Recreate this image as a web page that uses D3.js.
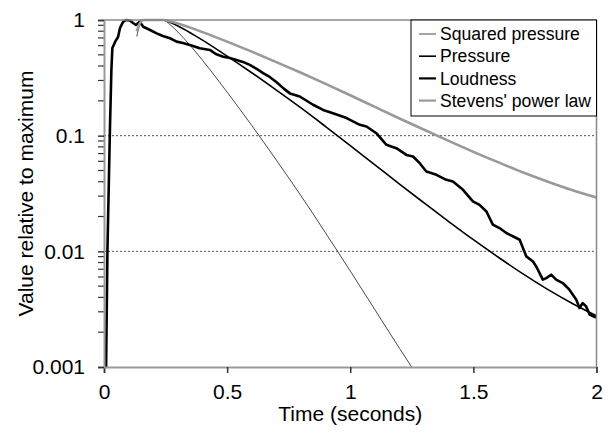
<!DOCTYPE html>
<html>
<head>
<meta charset="utf-8">
<script src="https://cdn.jsdelivr.net/npm/d3@7"></script>
<style>
  html, body { margin: 0; padding: 0; background: #fff; }
  svg { display: block; }
  text { font-family: Arial, "Liberation Sans", sans-serif; fill: #000; }
</style>
</head>
<body>
<svg id="chart" width="612" height="435"></svg>
<script>
// Time axis (seconds) and value axis ticks
const xTicks = [0, 0.5, 1, 1.5, 2];
const xTickLabels = ["0", "0.5", "1", "1.5", "2"];
const yTicks = [0.001, 0.01, 0.1, 1];
const yTickLabels = ["0.001", "0.01", "0.1", "1"];
const gridValues = [0.1, 0.01];

const seriesNames = ["Squared pressure", "Pressure", "Loudness", "Stevens' power law"];

// Modelled curves share one time base
const modelTime = [0.133, 0.145, 0.16, 0.24, 0.27, 0.3, 0.35, 0.4, 0.5, 0.6, 0.7, 0.8, 0.9, 1.0,
                   1.1, 1.2, 1.3, 1.4, 1.5, 1.6, 1.7, 1.8, 1.9, 2.0];
const pressure = [0.93, 0.97, 1, 1, 0.9506, 0.8872, 0.7762, 0.6699, 0.4875, 0.3499, 0.2477, 0.1738,
                  0.1199, 0.0822, 0.0560, 0.0381, 0.0262, 0.0181, 0.0126, 0.00893, 0.00641,
                  0.00471, 0.00356, 0.00277];
const squaredPressure = [0.72, 0.9, 1, 1, 0.9036, 0.787, 0.6026, 0.4487, 0.2377, 0.1225, 0.0614,
                         0.0302, 0.0144, 0.00676, 0.00313, 0.00145, 0.000685,
                         null, null, null, null, null, null, null];
const stevens = [0.8, 0.93, 1, 1, 0.970, 0.931, 0.859, 0.786, 0.650, 0.5324, 0.4327, 0.3499,
                 0.2802, 0.2234, 0.1773, 0.1408, 0.1124, 0.0901, 0.0725, 0.0590, 0.0483,
                 0.0402, 0.0339, 0.0292];

// Measured loudness
const loudTime = [0.008, 0.014, 0.024, 0.030, 0.034, 0.045, 0.057, 0.065, 0.077, 0.089, 0.105, 0.118,
  0.130, 0.146, 0.159, 0.187, 0.214, 0.239, 0.268, 0.295, 0.320, 0.349, 0.389, 0.430, 0.454,
  0.484, 0.511, 0.538, 0.564, 0.592, 0.621, 0.646, 0.673, 0.701, 0.730, 0.755, 0.795, 0.849,
  0.890, 0.930, 0.985, 1.039, 1.066, 1.106, 1.147, 1.187, 1.228, 1.255, 1.282, 1.309, 1.350,
  1.390, 1.417, 1.458, 1.498, 1.525, 1.553, 1.579, 1.606, 1.634, 1.660, 1.688, 1.715, 1.742,
  1.755, 1.782, 1.796, 1.816, 1.836, 1.863, 1.890, 1.918, 1.931, 1.944, 1.958, 1.972, 1.992, 2.0];
const loudness = [0.0008, 0.0103, 0.112, 0.37, 0.573, 0.646, 0.713, 0.853, 0.96, 1.0, 0.99, 0.942,
  0.905, 0.96, 0.875, 0.82, 0.767, 0.728, 0.695, 0.650, 0.633, 0.608, 0.570, 0.551, 0.508,
  0.482, 0.470, 0.452, 0.434, 0.409, 0.377, 0.347, 0.322, 0.290, 0.255, 0.232, 0.218, 0.185,
  0.167, 0.156, 0.142, 0.124, 0.120, 0.105, 0.0834, 0.078, 0.0682, 0.0661, 0.0578, 0.0490, 0.0459,
  0.0415, 0.0402, 0.0340, 0.0270, 0.0252, 0.0221, 0.0170, 0.0159, 0.0144, 0.0135, 0.0126, 0.00904, 0.00818,
  0.00741, 0.00569, 0.00587, 0.00628, 0.00569, 0.00532, 0.00466, 0.00382, 0.00324, 0.00357, 0.00334, 0.00284, 0.00271, 0.0027];

const svg = d3.select("#chart");
const plot = { left: 104, right: 596.5, top: 20, bottom: 367 };

const x = d3.scaleLinear().domain([0, 2]).range([plot.left, plot.right]);
const y = d3.scaleLog().domain([0.001, 1]).range([plot.bottom, plot.top]);

svg.append("defs").append("clipPath").attr("id", "plotClip")
  .append("rect")
  .attr("x", plot.left).attr("y", plot.top - 2)
  .attr("width", plot.right - plot.left).attr("height", plot.bottom - plot.top + 2);

// Dotted gridlines
svg.append("g").selectAll("line").data(gridValues).join("line")
  .attr("x1", plot.left).attr("x2", plot.right)
  .attr("y1", d => y(d)).attr("y2", d => y(d))
  .attr("stroke", "#555").attr("stroke-width", 1).attr("stroke-dasharray", "2,2");

const zip = (ts, vs) => ts.map((t, i) => [t, vs[i]]);

const series = [
  { name: seriesNames[0], data: zip(modelTime, squaredPressure), color: "#333", width: 0.9, curve: d3.curveMonotoneX },
  { name: seriesNames[1], data: zip(modelTime, pressure), color: "#000", width: 1.6, curve: d3.curveMonotoneX },
  { name: seriesNames[2], data: zip(loudTime, loudness), color: "#000", width: 2.6, curve: d3.curveLinear },
  { name: seriesNames[3], data: zip(modelTime, stevens), color: "#999", width: 2.6, curve: d3.curveMonotoneX }
];

const g = svg.append("g").attr("clip-path", "url(#plotClip)");
series.forEach(s => {
  g.append("path")
    .attr("d", d3.line().defined(d => d[1] != null).x(d => x(d[0])).y(d => y(d[1])).curve(s.curve)(s.data))
    .attr("fill", "none")
    .attr("stroke", s.color)
    .attr("stroke-width", s.width)
    .attr("stroke-linejoin", "round");
});

// Frame: top and right edges
svg.append("line").attr("x1", plot.left).attr("x2", plot.right).attr("y1", plot.top).attr("y2", plot.top)
  .attr("stroke", "#888").attr("stroke-width", 1.5);
svg.append("line").attr("x1", plot.right).attr("x2", plot.right).attr("y1", plot.top).attr("y2", plot.bottom)
  .attr("stroke", "#888").attr("stroke-width", 1.5);

// X axis
const xAxis = svg.append("g").attr("transform", `translate(0,${plot.bottom})`)
  .call(d3.axisBottom(x).tickValues(xTicks).tickFormat((d, i) => xTickLabels[i]).tickSize(6).tickPadding(11));
xAxis.select(".domain").attr("stroke", "#999").attr("stroke-width", 2);
xAxis.selectAll(".tick line").attr("stroke", "#333").attr("stroke-width", 1.5);
xAxis.selectAll(".tick text").attr("font-size", 21).attr("font-family", "Arial, 'Liberation Sans', sans-serif").attr("fill", "#000");

// Y axis with minor ticks
const minor = [];
for (let e = -3; e < 0; e++) for (let m = 2; m <= 9; m++) minor.push(m * Math.pow(10, e));
svg.append("g").selectAll("line").data(minor).join("line")
  .attr("x1", plot.left - 6).attr("x2", plot.left)
  .attr("y1", d => y(d)).attr("y2", d => y(d))
  .attr("stroke", "#333").attr("stroke-width", 1.2);

const yAxis = svg.append("g").attr("transform", `translate(${plot.left},0)`)
  .call(d3.axisLeft(y).tickValues(yTicks).tickFormat((d, i) => yTickLabels[i]).tickSize(6).tickPadding(13));
yAxis.select(".domain").attr("stroke", "#999").attr("stroke-width", 2);
yAxis.selectAll(".tick line").attr("stroke", "#333").attr("stroke-width", 1.5);
yAxis.selectAll(".tick text").attr("font-size", 21).attr("font-family", "Arial, 'Liberation Sans', sans-serif").attr("fill", "#000");

// Axis titles
svg.append("text").attr("x", (plot.left + plot.right) / 2).attr("y", 421)
  .attr("text-anchor", "middle").attr("font-size", 21).text("Time (seconds)");
svg.append("text").attr("transform", `translate(33,${(plot.top + plot.bottom) / 2}) rotate(-90)`)
  .attr("text-anchor", "middle").attr("font-size", 21).text("Value relative to maximum");

// Legend
const legend = { left: 411, top: 20, right: 596.5, bottom: 116, row: 22.2 };
svg.append("rect").attr("x", legend.left).attr("y", legend.top)
  .attr("width", legend.right - legend.left).attr("height", legend.bottom - legend.top)
  .attr("fill", "#fff").attr("stroke", "#000").attr("stroke-width", 1);
const lg = svg.append("g").selectAll("g").data(series).join("g")
  .attr("transform", (d, i) => `translate(0,${legend.top + 14 + i * legend.row})`);
lg.append("line").attr("x1", 419).attr("x2", 436).attr("y1", 0).attr("y2", 0)
  .attr("stroke", d => d.color).attr("stroke-width", d => Math.min(d.width, 2.2));
lg.append("text").attr("x", 440).attr("y", 0).attr("dy", "0.35em")
  .attr("font-size", 17.6).text(d => d.name);
</script>
</body>
</html>
